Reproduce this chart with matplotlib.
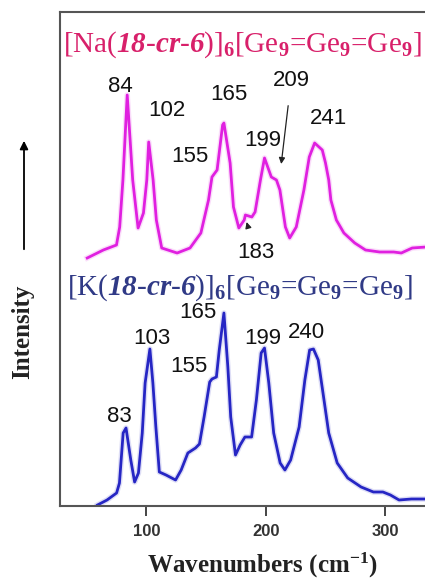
import matplotlib
matplotlib.use("Agg")
import matplotlib.pyplot as plt

# Far-IR spectra of the two Ge9 trimer salts (arbitrary intensity units)
na_wn = [50.5, 64, 75, 77.7, 80.4, 84, 88.6, 93.1, 97.6, 100.4, 102, 105.7,
         108.4, 112.9, 125.8, 136.6, 145.7, 152.1, 155, 159.3, 163.9, 165,
         170.2, 173, 177.5, 182, 183, 188.4, 191.1, 195.6, 199, 204.7, 209,
         211.9, 216.5, 220.1, 225.6, 232, 236.5, 241, 247.4, 250.1, 252.8,
         254.6, 259.2, 265.5, 274.6, 283.6, 295.4, 307.2, 313.6, 322.7,
         334.5, 345.4]
na_int = [248, 256, 261, 279, 326, 411, 326, 278, 293, 326, 364, 326,
          286, 258, 253, 258, 273, 306, 329, 336, 381, 383,
          343, 299, 278, 286, 291, 289, 294, 326, 348, 329, 326,
          316, 279, 268, 279, 316, 349, 363, 356, 343, 326,
          306, 286, 273, 263, 256, 254, 254, 253, 258,
          259, 259]

k_wn = [59.1, 67.1, 75.1, 77.5, 80.6, 83, 87.0, 90.2, 93.4, 96.6, 99.0, 103,
        105.5, 108, 110.9, 116.5, 124.5, 129.2, 134.8, 141.2, 144.5, 148.4,
        153.1, 155, 158.7, 161.1, 165, 168.3, 170.7, 174.7, 178.6, 182.6,
        188.2, 192.2, 196.2, 199, 202.6, 206.7, 212.1, 216.1, 220.9, 228.0,
        232.8, 236.8, 240, 244.0, 248.0, 252.8, 259.9, 268.7, 279.9, 290.2,
        298.2, 304.5, 311.7, 322.1, 330.0, 340.0]
k_int = [1, 6, 13, 23, 73, 78, 46, 24, 33, 73, 123, 157,
         123, 79, 34, 31, 26, 36, 53, 58, 62, 89,
         124, 127, 129, 156, 193, 139, 89, 51, 61, 69,
         69, 106, 153, 158, 123, 73, 43, 36, 46, 79,
         126, 156, 157, 146, 113, 73, 43, 28, 19, 14,
         14, 11, 6, 7, 7, 7]

# peak labels: (wavenumber, intensity at label anchor, text offset in pixels)
na_peaks = [84, 102, 155, 165, 199, 241]
na_peak_int = [411, 364, 329, 383, 348, 363]
na_offsets = [(-7, 8), (18, 32), (-22, 20), (5, 28), (-2, 18), (14, 25)]

k_peaks = [83, 103, 155, 165, 199, 240]
k_peak_int = [78, 157, 127, 193, 158, 157]
k_offsets = [(-7, 11), (2, 11), (-23, 12), (-26, 0), (-2, 9), (-7, 17)]

xticks = [100, 200, 300]

plt.rcParams['mathtext.fontset'] = 'custom'
plt.rcParams['mathtext.rm'] = 'Liberation Serif'
plt.rcParams['mathtext.it'] = 'Liberation Serif:italic'
plt.rcParams['mathtext.bf'] = 'Liberation Serif:bold'
plt.rcParams['mathtext.bfit'] = 'Liberation Serif:italic:bold'

pink = '#E020E0'
blue = '#2626C4'
label_font = dict(ha='center', va='center', fontsize=16, family='Liberation Sans', color='#111111')

fig = plt.figure(figsize=(4.25, 5.8), dpi=100)
ax = fig.add_axes([60 / 425, 74 / 580, 1.0 - 60 / 425 + 0.01, 494 / 580])

ax.plot(na_wn, na_int, color=pink, lw=4.0, alpha=0.15, solid_joinstyle='round')
ax.plot(na_wn, na_int, color=pink, lw=2.0, solid_joinstyle='round')
ax.plot(k_wn, k_int, color=blue, lw=4.0, alpha=0.15, solid_joinstyle='round')
ax.plot(k_wn, k_int, color=blue, lw=2.0, solid_joinstyle='round')

ax.set_xlim(27.7, 337)
ax.set_ylim(0, 494)

for wn, inten, off in zip(na_peaks, na_peak_int, na_offsets):
    ax.annotate(str(wn), xy=(wn, inten), xytext=off, textcoords='offset pixels', **label_font)
for wn, inten, off in zip(k_peaks, k_peak_int, k_offsets):
    ax.annotate(str(wn), xy=(wn, inten), xytext=off, textcoords='offset pixels', **label_font)

# arrowed labels for the two weak features of the Na salt
ax.annotate('209', xy=(213, 342), xytext=(10, 84), textcoords='offset pixels',
            arrowprops=dict(arrowstyle='-|>', color='#222222', lw=0.9, mutation_scale=9,
                            shrinkA=9, shrinkB=0), **label_font)
ax.annotate('183', xy=(184, 284), xytext=(9, -31), textcoords='offset pixels',
            arrowprops=dict(arrowstyle='-|>', color='#222222', lw=0.9, mutation_scale=9,
                            shrinkA=11, shrinkB=0), **label_font)

ax.set_yticks([])
ax.set_xticks(xticks)
ax.set_xticklabels([str(t) for t in xticks], fontsize=12, fontweight='bold',
                   family='Liberation Sans', color='#333333')
ax.tick_params(axis='x', direction='out', length=7, width=1.4, color='#444444', pad=6)
for side in ['left', 'bottom', 'top']:
    ax.spines[side].set_color('#555555')
    ax.spines[side].set_linewidth(1.5)
ax.spines['right'].set_visible(False)

fig.text(242 / 425, 1 - 45 / 580,
         r'[Na($\mathbfit{18}$-$\mathbfit{cr}$-$\mathbfit{6}$)]$_\mathbf{6}$[Ge$_\mathbf{9}$=Ge$_\mathbf{9}$=Ge$_\mathbf{9}$]',
         ha='center', va='center', fontsize=21, family='Liberation Serif', color='#D8206A')
fig.text(240 / 425, 1 - 288 / 580,
         r'[K($\mathbfit{18}$-$\mathbfit{cr}$-$\mathbfit{6}$)]$_\mathbf{6}$[Ge$_\mathbf{9}$=Ge$_\mathbf{9}$=Ge$_\mathbf{9}$]',
         ha='center', va='center', fontsize=21, family='Liberation Serif', color='#303A86')

fig.text(262 / 425, 1 - 565 / 580, r'Wavenumbers (cm$^{\mathbf{-1}}$)',
         ha='center', va='center', fontsize=18, fontweight='bold',
         family='Liberation Serif', color='#222222')
fig.text(23 / 425, 1 - 332 / 580, 'Intensity', rotation=90,
         ha='center', va='center', fontsize=18, fontweight='bold',
         family='Liberation Serif', color='#222222')
fig.add_artist(matplotlib.patches.FancyArrowPatch(
    (24 / 425, 1 - 252 / 580), (24 / 425, 1 - 138 / 580),
    transform=fig.transFigure, arrowstyle='-|>', mutation_scale=12,
    color='black', lw=1.3))

fig.savefig('out.png', dpi=100)
